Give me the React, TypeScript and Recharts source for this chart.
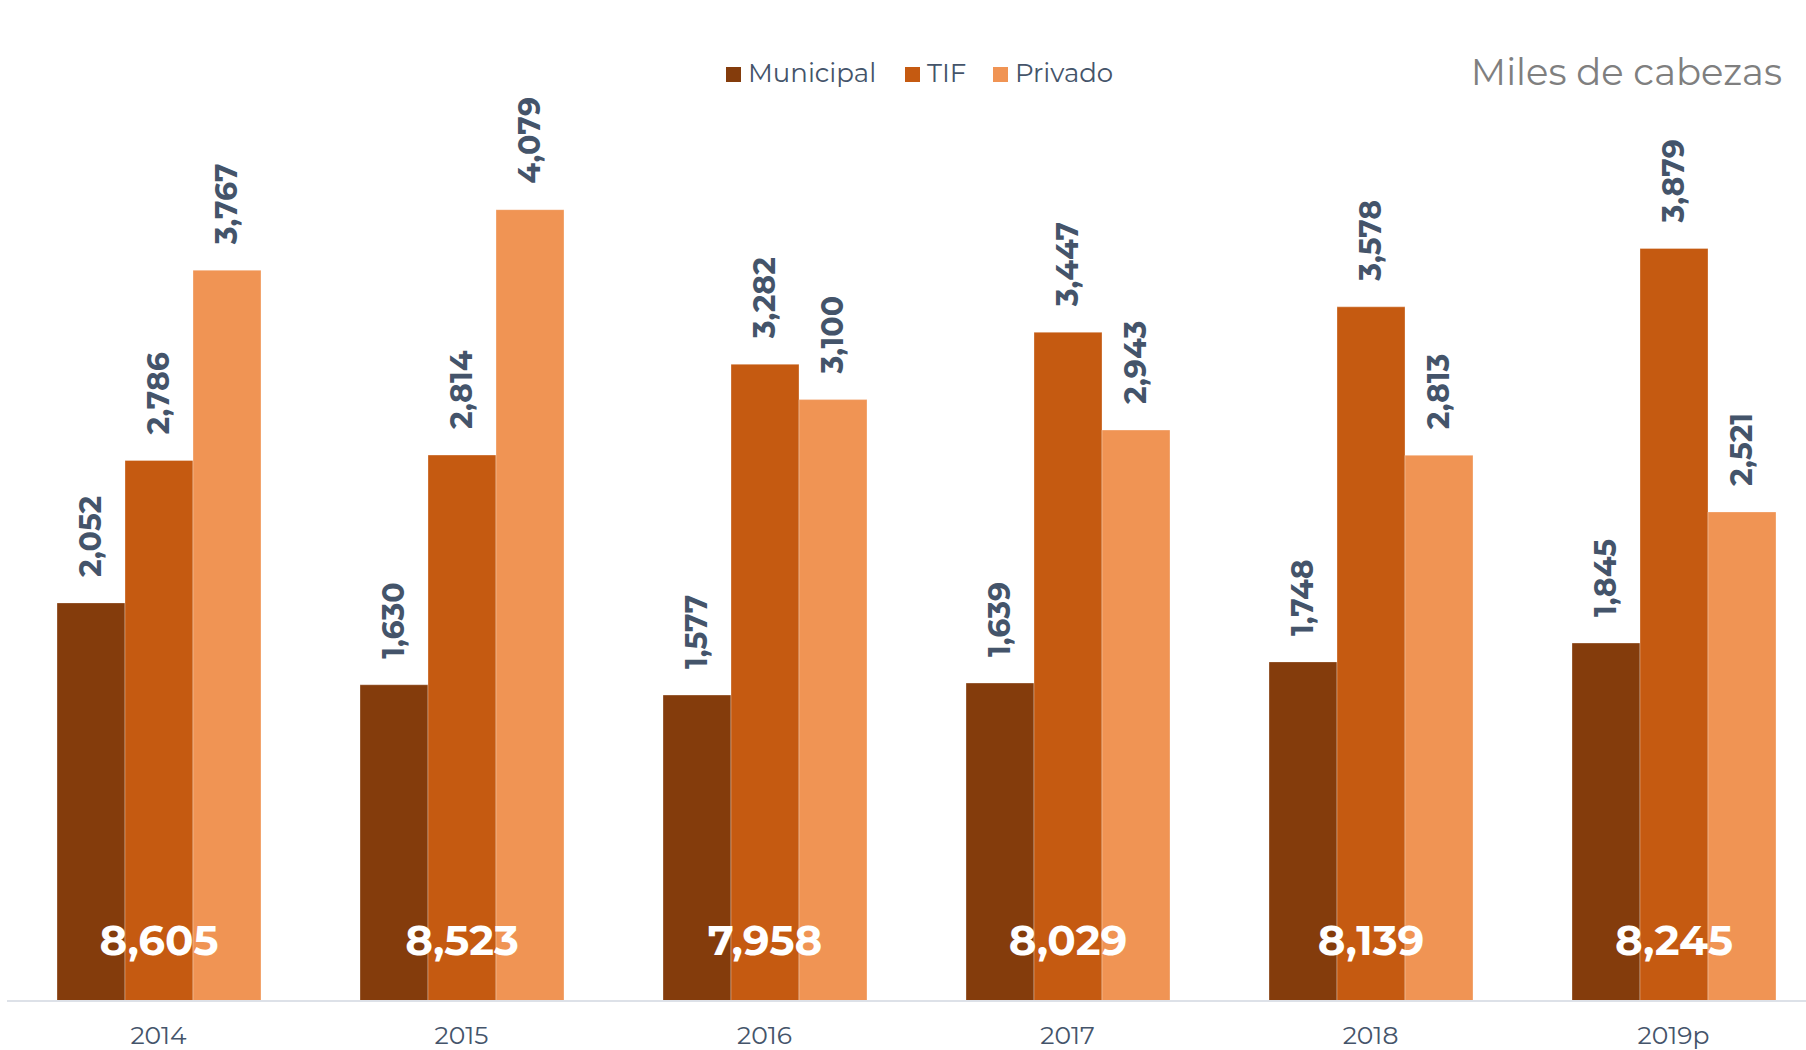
import React from 'react';
import { BarChart, Bar, XAxis, YAxis, LabelList } from 'recharts';

const years = ['2014', '2015', '2016', '2017', '2018', '2019p'];
const municipal = [2052, 1630, 1577, 1639, 1748, 1845];
const tif = [2786, 2814, 3282, 3447, 3578, 3879];
const privado = [3767, 4079, 3100, 2943, 2813, 2521];
const totals = [8605, 8523, 7958, 8029, 8139, 8245];

const data = years.map((year, i) => ({
  year,
  municipal: municipal[i],
  tif: tif[i],
  privado: privado[i],
  total: totals[i],
}));

const FONT = 'Montserrat, Inter, "Noto Sans", sans-serif';
const SLATE = '#44546A';
const COLORS = { municipal: '#843C0C', tif: '#C55A11', privado: '#F09454' };

const fmt = (v: number) => Number(v).toLocaleString('en-US');

// rotated value label sitting above each bar
const ValueLabel = (props: any) => {
  const { x, y, width, value } = props;
  const cx = x + width / 2;
  const ty = y - 26;
  return (
    <text
      x={cx}
      y={ty}
      transform={`rotate(-90, ${cx}, ${ty})`}
      textAnchor="start"
      dominantBaseline="central"
      fill={SLATE}
      fontFamily={FONT}
      fontWeight={700}
      fontSize={30}
    >
      {fmt(value)}
    </text>
  );
};

// white total near the bottom of the group, drawn on the middle bar
const TotalLabel = (props: any) => {
  const { x, y, width, height, value } = props;
  return (
    <text
      x={x + width / 2}
      y={y + height - 46}
      textAnchor="middle"
      fill="#ffffff"
      fontFamily={FONT}
      fontWeight={700}
      fontSize={42}
    >
      {fmt(value)}
    </text>
  );
};

const legendItems = [
  { name: 'Municipal', color: COLORS.municipal, sq: 726, tx: 748 },
  { name: 'TIF', color: COLORS.tif, sq: 905, tx: 927 },
  { name: 'Privado', color: COLORS.privado, sq: 993, tx: 1015 },
];

export default function App() {
  return (
    <div
      style={{
        position: 'absolute',
        left: 0,
        top: 0,
        width: 1806,
        height: 1050,
        overflow: 'hidden',
        background: '#fff',
      }}
    >
      <BarChart
        width={1830}
        height={1050}
        data={data}
        margin={{ top: 128, right: 5, left: 7, bottom: 0 }}
        barCategoryGap={50}
        barGap={0}
      >
        <XAxis
          dataKey="year"
          height={49}
          tickLine={false}
          tickSize={0}
          tickMargin={25}
          axisLine={{ stroke: '#DDE1E8', strokeWidth: 2 }}
          tick={{ fill: SLATE, fontSize: 25, fontFamily: FONT }}
        />
        <YAxis hide domain={[0, 4500]} />
        <Bar dataKey="municipal" fill={COLORS.municipal} stroke="#ffffff" strokeOpacity={0.3} strokeWidth={1} isAnimationActive={false}>
          <LabelList dataKey="municipal" content={ValueLabel} />
        </Bar>
        <Bar dataKey="tif" fill={COLORS.tif} stroke="#ffffff" strokeOpacity={0.3} strokeWidth={1} isAnimationActive={false}>
          <LabelList dataKey="tif" content={ValueLabel} />
        </Bar>
        <Bar dataKey="privado" fill={COLORS.privado} stroke="#ffffff" strokeOpacity={0.3} strokeWidth={1} isAnimationActive={false}>
          <LabelList dataKey="privado" content={ValueLabel} />
          <LabelList dataKey="total" content={(p: any) => <TotalLabel {...p} x={p.x - p.width} />} />
        </Bar>
      </BarChart>
      <svg
        width={1806}
        height={1050}
        style={{ position: 'absolute', left: 0, top: 0, pointerEvents: 'none' }}
      >
        {legendItems.map((it) => (
          <g key={it.name}>
            <rect x={it.sq} y={67} width={15} height={15} fill={it.color} />
            <text x={it.tx} y={82} fill={SLATE} fontFamily={FONT} fontSize={26}>
              {it.name}
            </text>
          </g>
        ))}
        <text x={1782} y={85} textAnchor="end" fill="#7F7F7F" fontFamily={FONT} fontSize={37}>
          Miles de cabezas
        </text>
      </svg>
    </div>
  );
}
